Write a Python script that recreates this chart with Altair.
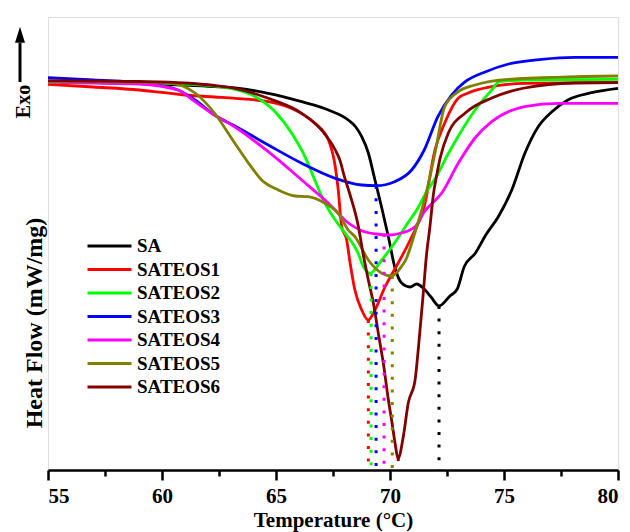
import altair as alt
import pandas as pd

series_names = ["SA", "SATEOS1", "SATEOS2", "SATEOS3", "SATEOS4", "SATEOS5", "SATEOS6"]
series_colors = ["#000000", "#ff0000", "#00ff00", "#0000ff", "#ff00ff", "#808000", "#800000"]

sa_T = [55, 57, 59, 61, 62.3, 63.2, 64.66, 66.13, 67.3, 68.17, 68.5, 68.76, 69.05, 69.34, 69.64, 69.93,
        70.22, 70.51, 70.88, 71.17, 71.5, 71.8, 72.15, 72.63, 72.95, 73.25, 73.75, 74.2, 74.75, 75.34,
        75.92, 76.5, 77.1, 77.8, 78.84, 80]
sa_v = [3.88, 3.875, 3.865, 3.85, 3.835, 3.82, 3.767, 3.683, 3.60, 3.50, 3.43, 3.333, 3.17, 2.90, 2.62, 2.33,
        2.02, 1.87, 1.83, 1.86, 1.81, 1.73, 1.64, 1.74, 1.81, 2.03, 2.17, 2.35, 2.533, 2.80,
        3.17, 3.433, 3.583, 3.70, 3.773, 3.817]

s1_T = [55, 57, 59, 61, 62.3, 63.2, 64.66, 65.83, 66.7, 67.3, 67.6, 67.73, 67.88, 68.1, 68.25, 68.46, 68.76,
        69.05, 69.34, 69.78, 70.36, 70.95, 71.5, 71.97, 72.4, 73.0, 73.43, 74.46, 75.9, 80]
s1_v = [3.857, 3.83, 3.80, 3.75, 3.73, 3.717, 3.683, 3.60, 3.467, 3.30, 3.033, 2.80, 2.433, 2.30, 2.07, 1.80, 1.60,
        1.50, 1.60, 1.83, 2.07, 2.33, 2.63, 3.20, 3.47, 3.72, 3.77, 3.833, 3.867, 3.877]

s2_T = [55, 57, 59, 61, 62.3, 63.2, 64.1, 64.96, 65.69, 66.27, 66.7, 67.15, 67.6, 68.03, 68.6, 68.83, 69.12,
        69.64, 70.29, 70.75, 71.17, 71.6, 72.05, 72.5, 73.0, 73.73, 74.46, 74.8, 75.9, 80]
s2_v = [3.88, 3.88, 3.875, 3.86, 3.84, 3.807, 3.733, 3.583, 3.367, 3.133, 2.90, 2.667, 2.50, 2.367, 2.17, 2.033, 1.967,
        2.10, 2.30, 2.46, 2.60, 2.78, 2.94, 3.14, 3.34, 3.60, 3.80, 3.883, 3.90, 3.907]

s3_T = [55, 57, 59.25, 60.7, 61.45, 62.3, 63.2, 64.66, 66.13, 67.6, 68.76, 69.4, 70.2, 70.95, 71.5, 72.1,
        72.7, 73.3, 74.2, 75.2, 76.65, 78.1, 80]
s3_v = [3.923, 3.90, 3.867, 3.80, 3.70, 3.55, 3.44, 3.25, 3.067, 2.917, 2.85, 2.843, 2.883, 3.00, 3.20, 3.533,
        3.75, 3.883, 3.983, 4.06, 4.107, 4.127, 4.127]

s4_T = [55, 57, 59, 60.7, 61.45, 62.3, 63.2, 64.66, 66.13, 67.3, 68.17, 68.76, 69.4, 70.0, 70.5, 71.1, 71.5,
        72.27, 73.0, 73.73, 74.46, 75.9, 77.4, 80]
s4_v = [3.88, 3.87, 3.86, 3.80, 3.683, 3.55, 3.43, 3.183, 2.90, 2.667, 2.47, 2.393, 2.36, 2.35, 2.37, 2.433, 2.58,
        2.77, 3.07, 3.32, 3.483, 3.633, 3.667, 3.667]

s5_T = [55, 57, 59, 60.4, 61.45, 62.3, 63.1, 63.8, 64.37, 65.1, 65.83, 66.4, 67.15, 67.73, 68.17, 68.46, 69.05,
        69.64, 70.07, 70.5, 70.73, 70.95, 71.17, 71.45, 71.75, 72.0, 72.4, 73.0, 73.73, 75.2, 80]
s5_v = [3.885, 3.885, 3.88, 3.867, 3.77, 3.57, 3.30, 3.067, 2.90, 2.80, 2.74, 2.733, 2.667, 2.567, 2.40, 2.333, 2.10,
        1.967, 1.94, 2.033, 2.12, 2.267, 2.43, 2.65, 2.93, 3.20, 3.633, 3.783, 3.85, 3.907, 3.94]

s6_T = [55, 57, 59, 61, 62.3, 63.2, 64.66, 66.13, 67.0, 67.6, 67.8, 68.0, 68.25, 68.6, 68.83, 69.05, 69.27, 69.5,
        69.7, 69.93, 70.07, 70.2, 70.36, 70.58, 70.8, 71.1, 71.25, 71.46, 71.6, 71.75, 71.9, 72.05, 72.2, 72.56,
        73.3, 74.46, 75.9, 78.1, 80]
s6_v = [3.893, 3.89, 3.885, 3.87, 3.845, 3.817, 3.717, 3.567, 3.40, 3.20, 3.10, 2.933, 2.75, 2.45, 2.15, 1.90, 1.67, 1.35,
        1.08, 0.70, 0.50, 0.30, 0.12, 0.33, 0.67, 0.90, 1.23, 1.77, 2.15, 2.43, 2.75, 2.95, 3.12, 3.37,
        3.57, 3.72, 3.82, 3.87, 3.873]

peak_T = [72.15, 69.05, 69.17, 69.39, 69.74, 70.10, 70.36]
peak_v = [1.64, 1.50, 1.967, 2.843, 2.36, 1.94, 0.12]

x_tick_values = [55, 57.5, 60, 62.5, 65, 67.5, 70, 72.5, 75, 77.5, 80]
x_title = "Temperature (°C)"
y_title = "Heat Flow (mW/mg)"
exo_label = "Exo"

FONT = "Times New Roman, Liberation Serif, DejaVu Serif, serif"

all_T = [sa_T, s1_T, s2_T, s3_T, s4_T, s5_T, s6_T]
all_v = [sa_v, s1_v, s2_v, s3_v, s4_v, s5_v, s6_v]
rows = []
for name, Ts, vs in zip(series_names, all_T, all_v):
    for i, (t, v) in enumerate(zip(Ts, vs)):
        rows.append({"series": name, "T": t, "v": v, "order": i})
df = pd.DataFrame(rows)
peaks = pd.DataFrame({"series": series_names, "T": peak_T, "v": peak_v, "base": [0.0] * len(peak_T)})

x_scale = alt.Scale(domain=[55, 80], nice=False, zero=False)
y_scale = alt.Scale(domain=[0, 4.53], nice=False, zero=False)
color_scale = alt.Scale(domain=series_names, range=series_colors)

x_axis = alt.Axis(
    title=x_title, values=x_tick_values,
    labelExpr="datum.value % 5 === 0 ? datum.label : ''",
    tickSize={"condition": {"test": "datum.value % 5 !== 0", "value": 6}, "value": 10},
    labelOverlap=False, grid=False, domainColor="black", domainWidth=2.5,
    tickColor="black", tickWidth=2.5, labelColor="black", titleColor="black",
    labelFont=FONT, labelFontSize=21, labelFontWeight="bold", labelPadding=5,
    titleFont=FONT, titleFontSize=21, titleFontWeight="bold", titlePadding=3,
)
y_axis = alt.Axis(title=None, labels=False, ticks=False, domain=False, grid=False)

lines = alt.Chart(df).mark_line(strokeWidth=2.8, interpolate="monotone").encode(
    x=alt.X("T:Q", scale=x_scale, axis=x_axis),
    y=alt.Y("v:Q", scale=y_scale, axis=y_axis),
    color=alt.Color("series:N", scale=color_scale, legend=alt.Legend(
        title=None, orient="none", legendX=38, legendY=221, padding=0,
        symbolType="stroke", symbolSize=1936, symbolStrokeWidth=3, clipHeight=16, rowPadding=4.5,
        labelFont=FONT, labelFontSize=19, labelFontWeight="bold", labelColor="black", labelOffset=4,
    )),
    order="order:Q",
)

drops = alt.Chart(peaks).mark_rule(strokeWidth=3, strokeDash=[3, 9.6]).encode(
    x=alt.X("T:Q", scale=x_scale),
    y=alt.Y("v:Q", scale=y_scale),
    y2="base:Q",
    color=alt.Color("series:N", scale=color_scale, legend=None),
)

lab = pd.DataFrame({"t": [y_title], "e": [exo_label]})
ytitle = alt.Chart(lab).mark_text(angle=270, font=FONT, fontSize=24, fontWeight="bold", color="black",
                                  align="center", baseline="middle").encode(
    text="t:N", x=alt.value(-13.5), y=alt.value(306))
exo = alt.Chart(lab).mark_text(angle=270, font=FONT, fontSize=20, fontWeight="bold", color="black",
                               align="center", baseline="middle").encode(
    text="e:N", x=alt.value(-24), y=alt.value(84.5))
shaft = alt.Chart(lab).mark_rule(strokeWidth=3, color="black").encode(
    x=alt.value(-28), y=alt.value(26), y2=alt.value(65))
head = alt.Chart(lab).mark_point(shape="M0,-1L0.625,1L-0.625,1Z", filled=True, size=256,
                                 color="black", opacity=1, strokeWidth=0).encode(
    x=alt.value(-28), y=alt.value(17.85))

chart = alt.layer(lines, drops, ytitle, exo, shaft, head).properties(
    width=570, height=453,
    autosize=alt.AutoSizeParams(type="none"),
    padding={"left": 40, "top": 9, "right": 4, "bottom": 62},
).configure_view(stroke="black", strokeWidth=2.5).configure(background="white")

chart.save("out.html", embed_options={"renderer": "svg", "actions": False})
